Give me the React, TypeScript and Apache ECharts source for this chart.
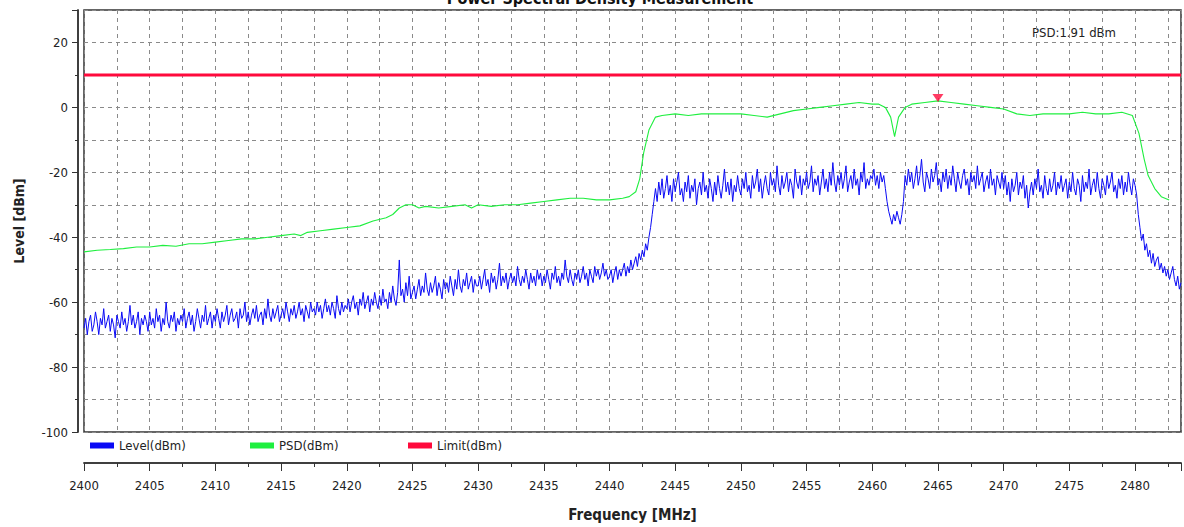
import React, { useEffect, useRef } from "react";
import * as echarts from "echarts";

// ---- data ----
const startFreq = 2400;
const stepMHz = 0.125;

const level2400 = [
  -68, -65, -70, -66, -64, -69, -67, -63, -66, -70, -65, -67, -62, -68, -66, -64, -69, -65, -67, -71,
  -64, -66, -68, -63, -67, -65, -69, -66, -61, -67, -64, -68, -66, -63, -70, -65, -67, -64, -66, -69,
  -63, -67, -65, -68, -62, -66, -64, -69, -65, -67, -60, -66, -68, -64, -66, -63, -69, -65, -67, -64,
  -66, -62, -68, -65, -63, -67, -64, -69, -66, -62, -65, -68, -64, -66, -61, -67, -65, -63, -68, -64,
];
const level2410 = [
  -66, -62, -65, -68, -63, -66, -64, -61, -67, -64, -62, -66, -65, -63, -68, -62, -65, -64, -60, -66,
  -63, -67, -64, -62, -65, -61, -66, -64, -63, -67, -62, -65, -59, -64, -66, -62, -65, -63, -61, -66,
  -64, -62, -65, -60, -63, -66, -62, -64, -61, -65, -63, -60, -64, -62, -66, -61, -63, -65, -60, -63,
  -62, -64, -60, -63, -61, -65, -62, -59, -63, -61, -64, -60, -62, -65, -58, -62, -64, -60, -63, -61,
];
const level2420 = [
  -62, -59, -63, -60, -58, -62, -60, -64, -59, -61, -57, -62, -60, -58, -63, -59, -61, -57, -60, -62,
  -58, -61, -56, -60, -59, -62, -57, -60, -55, -59, -61, -57, -47, -58, -56, -60, -54, -58, -52, -59,
  -57, -55, -59, -56, -53, -58, -55, -57, -51, -56, -58, -54, -57, -55, -52, -58, -54, -56, -59, -53,
  -56, -54, -57, -52, -55, -58, -53, -56, -50, -55, -57, -53, -55, -51, -56, -54, -52, -57, -53, -55,
];
const level2430 = [
  -55, -52, -56, -53, -50, -55, -53, -57, -51, -54, -52, -56, -53, -48, -55, -52, -54, -51, -56, -53,
  -51, -54, -52, -55, -49, -53, -55, -52, -54, -50, -53, -56, -51, -54, -52, -55, -50, -53, -51, -55,
  -52, -54, -50, -53, -56, -51, -53, -49, -54, -52, -55, -51, -53, -47, -52, -54, -50, -53, -55, -51,
  -53, -50, -54, -52, -49, -53, -51, -55, -50, -52, -54, -49, -52, -50, -53, -51, -48, -52, -50, -53,
];
const level2440 = [
  -52, -50, -54, -51, -49, -53, -50, -52,
  -50, -48, -52, -49, -51, -47, -50, -48,
  -46, -49, -45, -47, -44, -46, -42, -44,
  -40, -37, -33, -29, -25, -29, -23, -27,
  -22, -28, -25, -21, -27, -24, -29, -22, -26, -23, -20, -27, -25, -29, -23, -26,
  -21, -28, -24, -26, -22, -30, -25, -23, -27, -20, -26, -24, -28, -22, -25, -29,
  -23, -27, -21, -25, -28, -24, -19, -26, -23, -27, -22, -29, -24, -26, -21, -25,
];
const level2450 = [
  -27, -22, -25, -20, -26, -24, -28, -21, -25, -23, -19, -26, -22, -28, -24, -21, -25, -27, -20, -24,
  -22, -26, -18, -24, -27, -21, -25, -23, -20, -26, -22, -24, -28, -19, -23, -25, -21, -27, -22, -24,
  -20, -25, -23, -18, -26, -22, -24, -21, -27, -23, -19, -25, -22, -26, -20, -24, -17, -23, -26, -21,
  -24, -20, -25, -22, -18, -26, -23, -21, -25, -19, -24, -22, -27, -20, -23, -17, -25, -22, -24, -21,
];
const level2460 = [
  -22, -19, -24, -21, -25, -20, -23, -21,
  -25, -29, -32, -34, -36, -33, -35, -32,
  -34, -36, -33, -29, -21, -24, -19, -23,
  -20, -25, -22, -18, -24, -21, -16, -23, -26, -20, -22, -25, -19, -23, -21, -17, -24, -22, -26, -20,
  -23, -19, -25, -21, -24, -18, -22, -26, -20, -23, -25, -21, -19, -24, -22, -27, -20, -23, -21, -25,
  -18, -24, -22, -20, -26, -23, -21, -25, -19, -24, -22, -27, -21, -23, -25, -20,
];
const level2470 = [
  -25, -21, -27, -23, -29, -22, -26, -24, -20, -27, -23, -25, -21, -28, -24, -31, -26, -23, -27, -22,
  -25, -19, -26, -24, -28, -21, -25, -27, -22, -26, -24, -20, -27, -23, -25, -21, -26, -24, -22, -28,
  -23, -26, -20, -25, -27, -22, -24, -29, -21, -26, -23, -25, -19, -27, -24, -22, -26, -20, -25, -28,
  -22, -24, -27, -21, -25, -23, -20, -26, -24, -28, -22, -25, -21, -27, -23, -26, -20, -24, -27, -22,
];
const level2480 = [
  -24, -27, -33, -37, -41, -39, -44, -42,
  -46, -44, -48, -45, -49, -47, -46, -50,
  -48, -51, -49, -52, -50, -53, -51, -49,
  -53, -55, -52, -56, -54,
];

const psdFreqs = [
  2400, 2401, 2402, 2403, 2404, 2405, 2406, 2407, 2408, 2409, 2410, 2411, 2412, 2413, 2414, 2415,
  2416, 2416.5, 2417, 2418, 2419, 2420, 2421, 2422, 2423, 2423.5, 2424, 2424.5, 2425, 2425.5, 2426,
  2427, 2428, 2429, 2429.5, 2430, 2431, 2432, 2433, 2434, 2435, 2436, 2437, 2438, 2439, 2440, 2441,
  2441.5, 2442, 2442.3, 2442.6, 2443, 2443.5, 2444, 2445, 2446, 2447, 2448, 2449, 2450, 2451, 2452,
  2453, 2454, 2455, 2456, 2457, 2458, 2459, 2460, 2460.5, 2461, 2461.4, 2461.7, 2462, 2462.5, 2463,
  2464, 2465, 2466, 2467, 2468, 2469, 2470, 2471, 2472, 2473, 2474, 2475, 2476, 2477, 2478, 2479,
  2479.8, 2480.3, 2480.7, 2481, 2481.5, 2482, 2482.6,
];
const psdValues = [
  -44.5, -44, -43.8, -43.5, -43, -43, -42.5, -42.8, -42, -42, -41.5, -41, -40.5, -40.5, -40, -39.5,
  -39, -39.5, -38.5, -38, -37.5, -37, -36.5, -35, -34, -33, -31, -30, -30, -31, -30.5,
  -31, -30.5, -30, -31, -30, -30.5, -30, -30, -29.5, -29, -28.5, -28, -28, -28.5, -28.5, -28,
  -27.5, -26, -22, -14, -7, -3, -2.5, -2, -2.5, -2, -2, -2, -2, -2.5, -3,
  -2, -1, -0.5, 0, 0.5, 1, 1.5, 1, 1, 0, -3, -9, -3, 0, 1,
  1.5, 2, 1.5, 1, 0.5, 0, -0.5, -2, -2.5, -2, -2, -2, -1.5, -2, -2, -1.5,
  -2.5, -8, -16, -21, -25, -27.5, -28.5,
];

const limitFreqs = [2400, 2483.5];
const limitValues = [10, 10];

const markerFreq = 2465;
const markerLevel = 2.9;
const psdReadout = "PSD:1.91 dBm";

const FONT = "'Arial Narrow', 'Liberation Sans Narrow', 'DejaVu Sans Condensed', 'Liberation Sans', sans-serif";

export default function App() {
  const ref = useRef<HTMLDivElement>(null);
  useEffect(() => {
    document.body.style.margin = "0";
    const chart = echarts.init(ref.current!, null, { renderer: "svg" });
    const levelValues = [
      ...level2400, ...level2410, ...level2420, ...level2430,
      ...level2440, ...level2450, ...level2460, ...level2470, ...level2480,
    ];
    const levelData = levelValues.map((v, i) => [startFreq + i * stepMHz, v]);
    const psdData = psdFreqs.map((f, i) => [f, psdValues[i]]);
    const limitData = limitFreqs.map((f, i) => [f, limitValues[i]]);

    const dashed = { show: true, lineStyle: { color: "#8a8a8a", type: [4, 4], width: 1 } };
    const labelStyle = { color: "#222", fontSize: 13, fontFamily: FONT };
    const axisLine = { show: true, onZero: false, lineStyle: { color: "#333", width: 1.5 } };

    chart.setOption({
      animation: false,
      backgroundColor: "#ffffff",
      grid: {
        left: 84, right: 2, top: 10, bottom: 93,
        show: true, borderColor: "#333", borderWidth: 1.5, backgroundColor: "transparent",
      },
      legend: [
        { data: ["Level(dBm)"], left: 90, top: 439 },
        { data: ["PSD(dBm)"], left: 250, top: 439 },
        { data: ["Limit(dBm)"], left: 408, top: 439 },
      ].map((l) => ({
        ...l,
        icon: "rect",
        itemWidth: 24,
        itemHeight: 6,
        itemGap: 0,
        padding: 0,
        textStyle: { color: "#222", fontSize: 13, fontFamily: FONT },
      })),
      xAxis: [
        {
          type: "value", min: 2400, max: 2483.5, interval: 2.5, position: "bottom", offset: 31,
          axisLine,
          axisTick: { show: true, length: 4, lineStyle: { color: "#333" } },
          axisLabel: { show: false },
          splitLine: dashed,
        },
        {
          type: "value", min: 2400, max: 2483.5, interval: 5, position: "bottom", offset: 31,
          axisLine,
          axisTick: { show: true, length: 8, lineStyle: { color: "#333" } },
          axisLabel: {
            ...labelStyle, margin: 16,
            formatter: (v: number) => (v % 5 === 0 ? String(v) : ""),
          },
          splitLine: { show: false },
          name: "Frequency [MHz]",
          nameLocation: "middle",
          nameGap: 44,
          nameTextStyle: { color: "#222", fontSize: 15, fontWeight: "bold", fontFamily: FONT },
        },
      ],
      yAxis: [
        {
          type: "value", min: -100, max: 30, interval: 10, position: "left", offset: 6,
          axisLine,
          axisTick: { show: true, length: 3, lineStyle: { color: "#333" } },
          axisLabel: { show: false },
          splitLine: dashed,
        },
        {
          type: "value", min: -100, max: 30, interval: 20, position: "left", offset: 6,
          axisLine,
          axisTick: { show: true, length: 6, lineStyle: { color: "#333" } },
          axisLabel: {
            ...labelStyle, margin: 10,
            formatter: (v: number) => (v % 20 === 0 ? String(v) : ""),
          },
          splitLine: { show: false },
          name: "Level [dBm]",
          nameLocation: "middle",
          nameGap: 52,
          nameTextStyle: { color: "#222", fontSize: 14, fontWeight: "bold", fontFamily: FONT },
        },
      ],
      series: [
        {
          name: "Level(dBm)", type: "line", data: levelData, xAxisIndex: 0, yAxisIndex: 0,
          showSymbol: false, symbol: "none", color: "#0a0af5",
          lineStyle: { color: "#0a0af5", width: 1 }, z: 3,
        },
        {
          name: "PSD(dBm)", type: "line", data: psdData, xAxisIndex: 0, yAxisIndex: 0,
          showSymbol: false, symbol: "none", color: "#1fef3f",
          lineStyle: { color: "#1fef3f", width: 1.1 }, z: 4,
        },
        {
          name: "Limit(dBm)", type: "line", data: limitData, xAxisIndex: 0, yAxisIndex: 0,
          showSymbol: false, symbol: "none", color: "#ff0a3c",
          lineStyle: { color: "#ff0a3c", width: 3 }, z: 5,
        },
        {
          name: "marker", type: "scatter", data: [[markerFreq, markerLevel]], xAxisIndex: 0, yAxisIndex: 0,
          symbol: "triangle", symbolRotate: 180, symbolSize: [11, 8],
          itemStyle: { color: "#ff0a3c" }, z: 6,
        },
      ],
      graphic: [
        {
          type: "text", x: 600, y: 6,
          style: {
            text: "Power Spectral Density Measurement", fill: "#111",
            font: `bold 16px ${FONT}`, textAlign: "center", textVerticalAlign: "bottom",
          },
        },
        {
          type: "text", x: 1032, y: 32,
          style: {
            text: psdReadout, fill: "#222",
            font: `13px ${FONT}`, textAlign: "left", textVerticalAlign: "middle",
          },
        },
      ],
    });
    return () => chart.dispose();
  }, []);
  return <div ref={ref} style={{ position: "fixed", left: 0, top: 0, width: 1184, height: 527 }} />;
}
